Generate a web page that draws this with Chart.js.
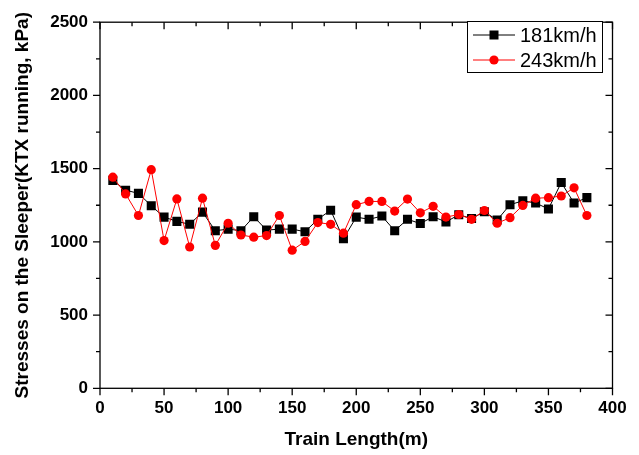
<!DOCTYPE html>
<html>
<head>
<meta charset="utf-8">
<script src="https://cdn.jsdelivr.net/npm/chart.js@4.4.1/dist/chart.umd.min.js"></script>
<style>
  body { margin: 0; background: #fff; }
  #wrap { width: 639px; height: 455px; }
</style>
</head>
<body>
<div id="wrap"><canvas id="myChart" width="639" height="455"></canvas></div>
<script>
'use strict';

let trainLength = [10, 20, 30, 40, 50, 60, 70, 80, 90, 100, 110, 120, 130, 140, 150, 160, 170, 180, 190,
  200, 210, 220, 230, 240, 250, 260, 270, 280, 290, 300, 310, 320, 330, 340, 350, 360, 370, 380];
let stress181 = [1420, 1353, 1331, 1247, 1169, 1140, 1120, 1203, 1076, 1087, 1076, 1172, 1080, 1087, 1087, 1069, 1154, 1216, 1021,
  1169, 1154, 1176, 1076, 1154, 1125, 1172, 1136, 1185, 1160, 1205, 1149, 1254, 1280, 1265, 1225, 1405, 1265, 1302];
let stress243 = [1442, 1327, 1180, 1493, 1009, 1293, 965, 1298, 976, 1127, 1047, 1032, 1043, 1180, 943, 1003, 1132, 1120, 1059,
  1254, 1276, 1276, 1210, 1292, 1198, 1243, 1169, 1187, 1154, 1214, 1127, 1165, 1249, 1298, 1302, 1313, 1369, 1180];
let seriesNames = ['181km/h', '243km/h'];
let xTicks = [0, 50, 100, 150, 200, 250, 300, 350, 400];
let yTicks = [0, 500, 1000, 1500, 2000, 2500];

let fontFamily = '"Liberation Sans", Arial, sans-serif';
let ctx = document.getElementById('myChart');

function toPoints(values) {
  return values.map((v, i) => ({ x: trainLength[i], y: v }));
}

// box frame with major/minor ticks on all four sides (outward on left/bottom, inward on top/right)
const frameTicks = {
  id: 'frameTicks',
  afterDraw(chart) {
    let c = chart.ctx;
    let area = chart.chartArea;
    let xs = chart.scales.x;
    let ys = chart.scales.y;
    c.save();
    c.strokeStyle = '#000';
    c.lineWidth = 1.3;
    c.strokeRect(area.left, area.top, area.right - area.left, area.bottom - area.top);
    c.beginPath();
    for (let v = xTicks[0]; v <= xTicks[xTicks.length - 1]; v += 25) {
      let px = xs.getPixelForValue(v);
      let len = xTicks.includes(v) ? 7 : 4;
      c.moveTo(px, area.bottom);
      c.lineTo(px, area.bottom + len);
      c.moveTo(px, area.top);
      c.lineTo(px, area.top + len);
    }
    for (let v = yTicks[0]; v <= yTicks[yTicks.length - 1]; v += 250) {
      let py = ys.getPixelForValue(v);
      let len = yTicks.includes(v) ? 7 : 4;
      c.moveTo(area.left, py);
      c.lineTo(area.left - len, py);
      c.moveTo(area.right, py);
      c.lineTo(area.right - len, py);
    }
    c.stroke();

    // legend box: line - marker - line, then label
    let box = { left: 467, top: 21, right: 602, bottom: 72 };
    c.lineWidth = 1;
    c.fillStyle = '#fff';
    c.fillRect(box.left, box.top, box.right - box.left, box.bottom - box.top);
    c.strokeRect(box.left + 0.5, box.top + 0.5, box.right - box.left, box.bottom - box.top);
    chart.data.datasets.forEach((ds, i) => {
      let cy = 35 + i * 25;
      c.strokeStyle = ds.borderColor;
      c.lineWidth = 1;
      c.beginPath();
      c.moveTo(473, cy);
      c.lineTo(515, cy);
      c.stroke();
      c.fillStyle = ds.pointBackgroundColor;
      if (ds.pointStyle === 'rect') {
        c.fillRect(489.5, cy - 4.5, 9, 9);
      } else {
        c.beginPath();
        c.arc(494, cy, 4.6, 0, Math.PI * 2);
        c.fill();
      }
      c.fillStyle = '#000';
      c.font = '20px ' + fontFamily;
      c.textBaseline = 'middle';
      c.textAlign = 'left';
      c.fillText(ds.label, 520, cy + 1);
    });
    c.restore();
  }
};

new Chart(ctx, {
  type: 'line',
  data: {
    datasets: [{
      label: seriesNames[0],
      data: toPoints(stress181),
      borderColor: '#000000',
      backgroundColor: '#000000',
      pointBackgroundColor: '#000000',
      pointBorderWidth: 0,
      pointStyle: 'rect',
      pointRadius: 6.4,
      borderWidth: 1,
      order: 1
    },
    {
      label: seriesNames[1],
      data: toPoints(stress243),
      borderColor: '#ff0000',
      backgroundColor: '#ff0000',
      pointBackgroundColor: '#ff0000',
      pointBorderWidth: 0,
      pointStyle: 'circle',
      pointRadius: 4.6,
      borderWidth: 1,
      order: 0
    }]
  },
  options: {
    responsive: false,
    animation: false,
    layout: { padding: { top: 12.7, right: 26.5, left: 0, bottom: 0 } },
    plugins: {
      legend: { display: false },
      tooltip: { enabled: false }
    },
    scales: {
      x: {
        type: 'linear',
        min: 0,
        max: 400,
        afterFit: (scale) => { scale.height = 66.7; },
        afterBuildTicks: (scale) => { scale.ticks = xTicks.map(v => ({ value: v })); },
        grid: { display: false, drawTicks: false },
        border: { display: false },
        ticks: {
          padding: 10,
          color: '#000',
          maxRotation: 0,
          callback: (v) => String(v),
          font: { family: fontFamily, size: 17, weight: 'bold' }
        },
        title: {
          display: true,
          text: 'Train Length(m)',
          color: '#000',
          padding: { top: 5 },
          font: { family: fontFamily, size: 19, weight: 'bold' }
        }
      },
      y: {
        type: 'linear',
        min: 0,
        max: 2500,
        afterFit: (scale) => { scale.width = 100; },
        afterBuildTicks: (scale) => { scale.ticks = yTicks.map(v => ({ value: v })); },
        grid: { display: false, drawTicks: false },
        border: { display: false },
        ticks: {
          padding: 12,
          color: '#000',
          callback: (v) => String(v),
          font: { family: fontFamily, size: 17, weight: 'bold' }
        },
        title: {
          display: true,
          text: 'Stresses on the Sleeper(KTX running, kPa)',
          color: '#000',
          padding: { top: 11 },
          font: { family: fontFamily, size: 19, weight: 'bold' }
        }
      }
    }
  },
  plugins: [frameTicks]
});
</script>
</body>
</html>
